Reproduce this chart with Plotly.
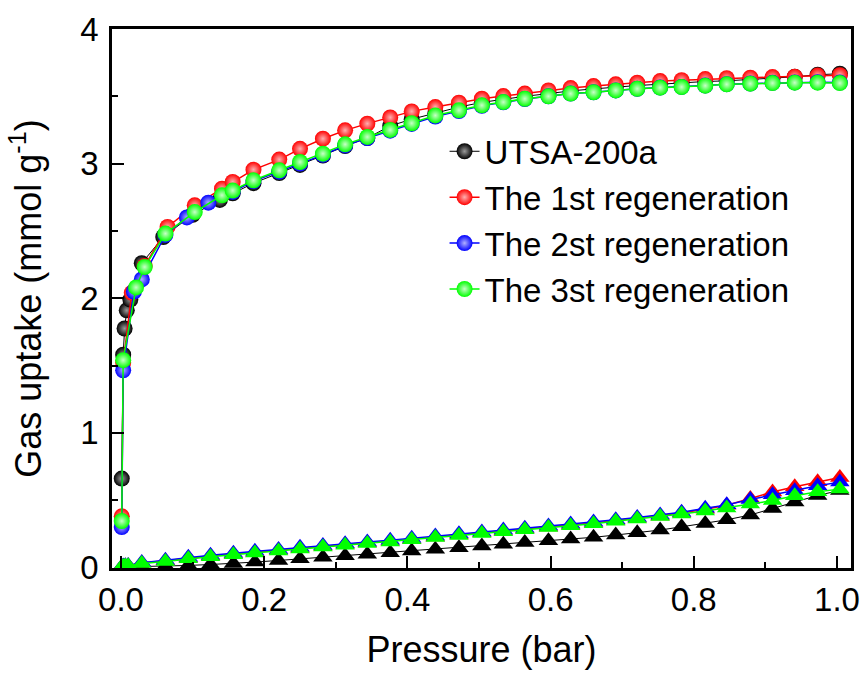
import plotly.graph_objects as go

# ---------------- data ----------------
series_names = ["UTSA-200a", "The 1st regeneration", "The 2st regeneration", "The 3st regeneration"]
colors = ["#000000", "#ff0000", "#0000ff", "#00ff00"]
glow = ["#9a9a9a", "#ffb0b0", "#b0b0ff", "#c8ffc8"]
line_widths = [1.0, 1.5, 1.5, 1.5]

p_high = [0.406, 0.439, 0.472, 0.504, 0.534, 0.564, 0.597, 0.628, 0.660, 0.691,
          0.721, 0.753, 0.783, 0.816, 0.846, 0.879, 0.910, 0.941, 0.973, 1.004]

# circles (upper isotherms)
black_p = [0.001, 0.003, 0.005, 0.008, 0.013, 0.029, 0.059, 0.100, 0.138, 0.156,
           0.185, 0.221, 0.250, 0.282, 0.313, 0.344, 0.376] + p_high
black_q = [0.66, 1.58, 1.775, 1.91, 1.99, 2.26, 2.455, 2.62, 2.73, 2.78,
           2.855, 2.93, 2.99, 3.06, 3.13, 3.19, 3.28,
           3.33, 3.375, 3.42, 3.455, 3.48, 3.50, 3.52, 3.54, 3.555, 3.57,
           3.58, 3.59, 3.60, 3.61, 3.615, 3.625, 3.635, 3.645, 3.66, 3.668]

red_p = [0.001, 0.003, 0.015, 0.033, 0.065, 0.103, 0.141, 0.156, 0.185, 0.221,
         0.250, 0.282, 0.313, 0.344, 0.376] + p_high
red_q = [0.38, 1.52, 2.04, 2.24, 2.53, 2.69, 2.814, 2.864, 2.955, 3.03,
         3.11, 3.185, 3.247, 3.297, 3.343,
         3.388, 3.42, 3.453, 3.482, 3.502, 3.52, 3.544, 3.561, 3.576, 3.589,
         3.601, 3.613, 3.62, 3.628, 3.635, 3.638, 3.643, 3.646, 3.654, 3.657]

blue_p = [0.001, 0.003, 0.018, 0.029, 0.062, 0.092, 0.122, 0.156, 0.185, 0.221,
          0.250, 0.282, 0.313, 0.344, 0.376] + p_high
blue_q = [0.30, 1.465, 2.05, 2.14, 2.47, 2.60, 2.71, 2.79, 2.87, 2.94,
          3.00, 3.065, 3.135, 3.19, 3.245,
          3.295, 3.35, 3.39, 3.43, 3.455, 3.48, 3.50, 3.52, 3.53, 3.544,
          3.556, 3.565, 3.57, 3.58, 3.59, 3.595, 3.60, 3.603, 3.605, 3.602]

green_p = [0.001, 0.003, 0.021, 0.033, 0.062, 0.103, 0.141, 0.156, 0.185, 0.221,
           0.250, 0.282, 0.313, 0.344, 0.376] + p_high
green_q = [0.345, 1.54, 2.08, 2.232, 2.48, 2.64, 2.765, 2.80, 2.876, 2.95,
           3.012, 3.074, 3.143, 3.198, 3.25,
           3.30, 3.358, 3.396, 3.433, 3.457, 3.482, 3.50, 3.52, 3.53, 3.544,
           3.556, 3.564, 3.569, 3.579, 3.589, 3.594, 3.598, 3.601, 3.601, 3.598]

# triangles (lower isotherms)
tri_p = [0.001, 0.003, 0.006, 0.010, 0.029, 0.062, 0.094, 0.125, 0.157, 0.187,
         0.220, 0.250, 0.282, 0.313, 0.344, 0.376] + p_high
black_t = [0.002, 0.003, 0.004, 0.005, 0.007, 0.010, 0.015, 0.022, 0.030, 0.040,
           0.052, 0.064, 0.075, 0.087, 0.098, 0.110,
           0.122, 0.135, 0.147, 0.160, 0.173, 0.186, 0.198, 0.211, 0.224, 0.241,
           0.258, 0.278, 0.302, 0.327, 0.354, 0.390, 0.438, 0.487, 0.535, 0.572]
red_t = [0.004, 0.008, 0.010, 0.013, 0.033, 0.050, 0.070, 0.085, 0.100, 0.113,
         0.127, 0.143, 0.157, 0.170, 0.183, 0.195,
         0.210, 0.227, 0.243, 0.257, 0.271, 0.285, 0.301, 0.315, 0.330, 0.348,
         0.365, 0.383, 0.405, 0.432, 0.462, 0.512, 0.560, 0.600, 0.636, 0.668]
blue_t = [0.006, 0.010, 0.012, 0.015, 0.036, 0.053, 0.075, 0.091, 0.106, 0.120,
          0.134, 0.150, 0.164, 0.177, 0.190, 0.202,
          0.217, 0.234, 0.250, 0.264, 0.278, 0.292, 0.308, 0.322, 0.337, 0.355,
          0.372, 0.390, 0.410, 0.440, 0.465, 0.505, 0.540, 0.570, 0.607, 0.634]
green_t = [0.005, 0.008, 0.010, 0.012, 0.030, 0.045, 0.065, 0.080, 0.095, 0.108,
           0.122, 0.138, 0.152, 0.165, 0.178, 0.190,
           0.205, 0.222, 0.238, 0.252, 0.266, 0.280, 0.296, 0.310, 0.325, 0.343,
           0.360, 0.378, 0.398, 0.420, 0.442, 0.471, 0.497, 0.532, 0.562, 0.582]

x_ticks = [0.0, 0.2, 0.4, 0.6, 0.8, 1.0]
y_ticks = [0, 1, 2, 3, 4]

circle_sets = [(black_p, black_q), (red_p, red_q), (blue_p, blue_q), (green_p, green_q)]
tri_sets = [black_t, red_t, blue_t, green_t]

FONT = "Liberation Sans, Arial, sans-serif"

fig = go.Figure()

for i, (px, qy) in enumerate(circle_sets):
    fig.add_trace(go.Scatter(
        x=px, y=qy, mode="lines+markers", name=series_names[i],
        line=dict(color=colors[i], width=line_widths[i]),
        marker=dict(symbol="circle", size=16, color=colors[i],
                    gradient=dict(type="radial", color=glow[i]),
                    line=dict(width=0)),
    ))

for i, ty in enumerate(tri_sets):
    fig.add_trace(go.Scatter(
        x=tri_p, y=ty, mode="lines+markers", showlegend=False,
        line=dict(color=colors[i], width=line_widths[i]),
        marker=dict(symbol="triangle-up", size=17, color=colors[i], line=dict(width=0)),
    ))

axis_common = dict(
    showline=True, linecolor="black", linewidth=2.5, mirror=True,
    ticks="inside", ticklen=12, tickwidth=2, tickcolor="black",
    showgrid=False, zeroline=False,
    tickfont=dict(family=FONT, size=33, color="black"),
)

fig.update_xaxes(
    range=[-0.0126, 1.0196], tickvals=x_ticks, tickformat=".1f",
    minor=dict(ticks="inside", ticklen=6, tickwidth=2, tickcolor="black", dtick=0.1, tick0=0),
    title=dict(text="Pressure (bar)", font=dict(family=FONT, size=36, color="black"), standoff=20),
    ticklabelstandoff=1,
    **axis_common,
)
fig.update_yaxes(
    range=[-0.004, 4.0], tickvals=y_ticks,
    minor=dict(ticks="inside", ticklen=6, tickwidth=2, tickcolor="black", dtick=0.5, tick0=0),
    title=dict(text="Gas uptake (mmol g<sup>-1</sup>)", font=dict(family=FONT, size=36, color="black"), standoff=28),
    ticklabelstandoff=4,
    **axis_common,
)

fig.update_layout(
    width=868, height=675,
    margin=dict(l=112, r=17, t=29, b=107, autoexpand=False),
    paper_bgcolor="white", plot_bgcolor="white",
    font=dict(family=FONT, color="black"),
    legend=dict(
        x=0.45, y=0.825, xanchor="left", yanchor="top",
        bgcolor="rgba(0,0,0,0)", borderwidth=0,
        font=dict(family=FONT, size=33, color="black"),
        tracegroupgap=0, itemwidth=30,
    ),
    showlegend=True,
)

fig.write_html("out.html", config={"displayModeBar": False},
               post_script="document.body.style.margin='0';")
